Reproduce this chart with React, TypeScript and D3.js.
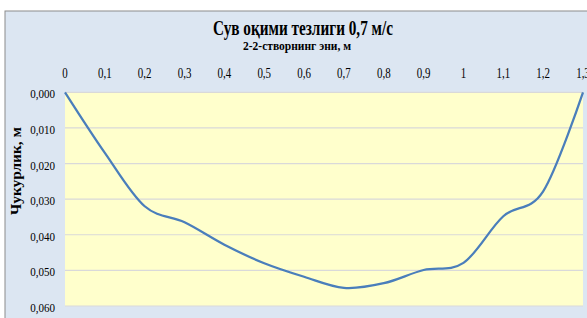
import React from "react";
import * as d3 from "d3";

const xValues = [0, 0.1, 0.2, 0.3, 0.4, 0.5, 0.6, 0.7, 0.8, 0.9, 1.0, 1.1, 1.2, 1.3];
const depthValues = [0, 0.017, 0.032, 0.0365, 0.0428, 0.048, 0.0518, 0.0549, 0.0536, 0.0499, 0.0479, 0.0348, 0.0278, 0];
const xTicks = [0, 0.1, 0.2, 0.3, 0.4, 0.5, 0.6, 0.7, 0.8, 0.9, 1, 1.1, 1.2, 1.3];
const yTicks = [0, 0.01, 0.02, 0.03, 0.04, 0.05, 0.06];
const title = "Сув оқими тезлиги 0,7 м/с";
const xTitle = "2-2-створнинг эни, м";
const yTitle = "Чукурлик, м";

const font = "'Liberation Serif', 'Times New Roman', serif";

function CText(props: {
  x: number;
  y: number;
  sx: number;
  size: number;
  bold?: boolean;
  anchor?: string;
  rotate?: number;
  len?: number;
  children: React.ReactNode;
}) {
  const { x, y, sx, size, bold, anchor, rotate, len, children } = props;
  return (
    <text
      transform={`translate(${x},${y})${rotate ? ` rotate(${rotate})` : ""} scale(${sx},1)`}
      textAnchor={anchor || "middle"}
      fontFamily={font}
      fontWeight={bold ? "bold" : "normal"}
      fontSize={size}
      fill="#000"
      textLength={len}
      lengthAdjust={len ? "spacingAndGlyphs" : undefined}
    >
      {children}
    </text>
  );
}

export default function App() {
  const W = 587, H = 318;
  const left = 65, right = 583, top = 92.3, bottom = 306;
  const x = d3.scaleLinear().domain([0, 1.3]).range([left, right]);
  const y = d3.scaleLinear().domain([0, 0.06]).range([top, bottom]);
  const pts: [number, number][] = xValues.map((v, i) => [v, depthValues[i]]);
  const line = d3
    .line<[number, number]>()
    .x((d) => x(d[0]))
    .y((d) => y(d[1]))
    .curve(d3.curveCardinal.tension(0));
  const fmtX = (v: number) => String(v).replace(".", ",");
  const fmtY = (v: number) => v.toFixed(3).replace(".", ",");
  return (
    <svg
      width={W}
      height={H}
      style={{ position: "absolute", left: 0, top: 0, display: "block" }}
    >
      <rect x={0} y={0} width={W} height={H} fill="#ffffff" />
      <rect x={5} y={11} width={W + 10} height={H} fill="#dce6f2" stroke="#8c8c8c" strokeWidth={1} />
      <rect x={left} y={top} width={right - left} height={bottom - top} fill="#ffffcc" />
      {yTicks.map((t) => (
        <line key={"g" + t} x1={left} x2={right} y1={y(t)} y2={y(t)} stroke="#d9d9d9" strokeWidth={1.2} />
      ))}
      <path d={line(pts) || ""} fill="none" stroke="#4a7ebb" strokeWidth={2.25} />
      <CText x={303} y={35} sx={1} size={20} bold len={180}>
        {title}
      </CText>
      <CText x={297} y={50} sx={1} size={12.5} bold len={108}>
        {xTitle}
      </CText>
      {xTicks.map((t) => (
        <CText key={"x" + t} x={x(t)} y={78} sx={0.78} size={14}>
          {fmtX(t)}
        </CText>
      ))}
      {yTicks.map((t) => (
        <CText key={"y" + t} x={55} y={y(t) + 6} sx={0.85} size={13} anchor="end">
          {fmtY(t)}
        </CText>
      ))}
      <CText x={21} y={171} sx={1} size={14.5} bold rotate={-90} len={88}>
        {yTitle}
      </CText>
    </svg>
  );
}
